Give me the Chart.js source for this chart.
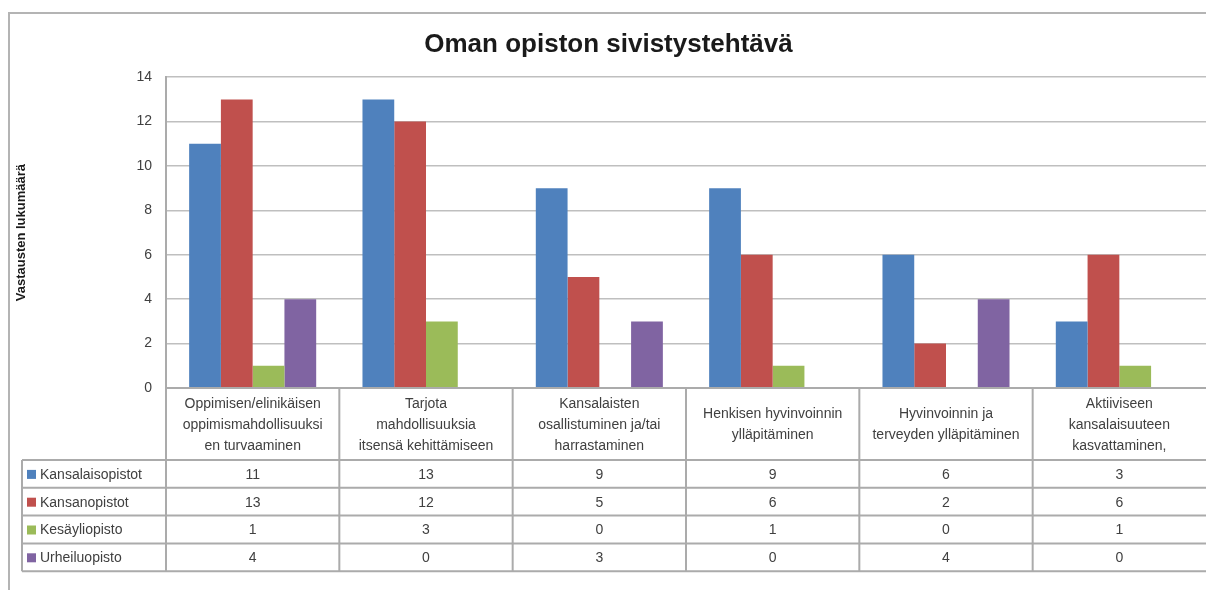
<!DOCTYPE html>
<html>
<head>
<meta charset="utf-8">
<script src="https://cdn.jsdelivr.net/npm/chart.js@4"></script>
<style>
  body { margin: 0; background: #fff; }
</style>
</head>
<body>
<canvas id="chart" width="1206" height="590"></canvas>
<script>
// categories (line breaks as in the table header)
const categories = [
    ['Oppimisen/elinikäisen', 'oppimismahdollisuuksi', 'en turvaaminen'],
    ['Tarjota', 'mahdollisuuksia', 'itsensä kehittämiseen'],
    ['Kansalaisten', 'osallistuminen ja/tai', 'harrastaminen'],
    ['Henkisen hyvinvoinnin', 'ylläpitäminen'],
    ['Hyvinvoinnin ja', 'terveyden ylläpitäminen'],
    ['Aktiiviseen', 'kansalaisuuteen', 'kasvattaminen,']
];
const seriesNames = ['Kansalaisopistot', 'Kansanopistot', 'Kesäyliopisto', 'Urheiluopisto'];
const kansalaisopistot = [11, 13, 9, 9, 6, 3];
const kansanopistot = [13, 12, 5, 6, 2, 6];
const kesayliopisto = [1, 3, 0, 1, 0, 1];
const urheiluopisto = [4, 0, 3, 0, 4, 0];
const yTicks = [0, 2, 4, 6, 8, 10, 12, 14];

const colors = ['#4F81BD', '#C0504D', '#9BBB59', '#8064A2'];
const values = [kansalaisopistot, kansanopistot, kesayliopisto, urheiluopisto];

const textColor = '#404040';
const lineColor = '#ababab';

// draws the outer frame and the data table under the plot
const tablePlugin = {
    id: 'dataTable',
    beforeDraw(chart) {
        const ctx = chart.ctx;
        ctx.save();
        ctx.strokeStyle = '#b4b4b4';
        ctx.lineWidth = 2;
        ctx.beginPath();
        ctx.moveTo(9, 590);
        ctx.lineTo(9, 13);
        ctx.lineTo(1206, 13);
        ctx.stroke();
        ctx.restore();
    },
    afterDraw(chart) {
        const ctx = chart.ctx;
        const area = chart.chartArea;
        const x = chart.scales.x;
        const n = categories.length;
        const colW = (area.right - area.left) / n;
        const top = area.bottom;
        const headH = 72;
        const rowH = 27.8;
        const legendLeft = 22;
        const bottom = top + headH + rowH * seriesNames.length;

        ctx.save();
        ctx.strokeStyle = lineColor;
        ctx.lineWidth = 2;
        ctx.beginPath();
        // horizontal lines
        ctx.moveTo(area.left, top); ctx.lineTo(area.right, top);
        for (let r = 0; r <= seriesNames.length; r++) {
            const y = top + headH + r * rowH;
            ctx.moveTo(legendLeft, y); ctx.lineTo(area.right, y);
        }
        // vertical lines
        ctx.moveTo(legendLeft, top + headH); ctx.lineTo(legendLeft, bottom);
        for (let i = 0; i < n; i++) {
            const xl = x.getPixelForValue(i) - colW / 2;
            ctx.moveTo(xl, top); ctx.lineTo(xl, bottom);
        }
        ctx.stroke();

        ctx.fillStyle = textColor;
        ctx.textAlign = 'center';
        ctx.textBaseline = 'middle';
        ctx.font = '14px "Liberation Sans", Arial, sans-serif';
        const lh = 21;
        categories.forEach((lines, i) => {
            const cx = x.getPixelForValue(i);
            const y0 = top + headH / 2 - (lines.length - 1) * lh / 2 + 1;
            lines.forEach((t, k) => ctx.fillText(t, cx, y0 + k * lh));
        });

        seriesNames.forEach((name, r) => {
            const cy = top + headH + r * rowH + rowH / 2 + 1;
            ctx.fillStyle = colors[r];
            ctx.fillRect(legendLeft + 5, cy - 5, 9, 9);
            ctx.fillStyle = textColor;
            ctx.textAlign = 'left';
            ctx.fillText(name, legendLeft + 18, cy);
            ctx.textAlign = 'center';
            values[r].forEach((v, i) => {
                ctx.fillText(String(v), x.getPixelForValue(i), cy);
            });
        });
        ctx.restore();
    }
};

const ctx = document.getElementById('chart').getContext('2d');
const chart = new Chart(ctx, {
    type: 'bar',
    data: {
        labels: categories.map(c => c.join(' ')),
        datasets: seriesNames.map((name, i) => ({
            label: name,
            data: values[i],
            backgroundColor: colors[i],
            borderWidth: 0,
            barPercentage: 1,
            categoryPercentage: 0.733
        }))
    },
    options: {
        responsive: false,
        animation: false,
        layout: { padding: { left: 11, right: 0, top: 12, bottom: 19 } },
        plugins: {
            legend: { display: false },
            tooltip: { enabled: false },
            title: {
                display: true,
                text: 'Oman opiston sivistystehtävä',
                color: '#1a1a1a',
                font: { family: '"Liberation Sans", Arial, sans-serif', size: 26, weight: 'bold' },
                padding: { top: 17, bottom: 17 }
            }
        },
        scales: {
            x: {
                ticks: { display: false },
                grid: { display: false },
                border: { color: lineColor, width: 2 },
                afterFit(scale) { scale.height = 183; }
            },
            y: {
                min: 0,
                max: 14,
                afterBuildTicks(scale) { scale.ticks = yTicks.map(v => ({ value: v })); },
                ticks: {
                    color: textColor,
                    padding: 14,
                    font: { family: '"Liberation Sans", Arial, sans-serif', size: 14 }
                },
                grid: { color: '#bfbfbf', lineWidth: 1.5, drawTicks: false },
                border: { color: lineColor, width: 2 },
                title: {
                    display: true,
                    text: 'Vastausten lukumäärä',
                    color: '#1a1a1a',
                    font: { family: '"Liberation Sans", Arial, sans-serif', size: 13, weight: 'bold' },
                    padding: { top: 3, bottom: 0 }
                },
                afterFit(scale) { scale.width = 155; }
            }
        }
    },
    plugins: [tablePlugin]
});
</script>
</body>
</html>
